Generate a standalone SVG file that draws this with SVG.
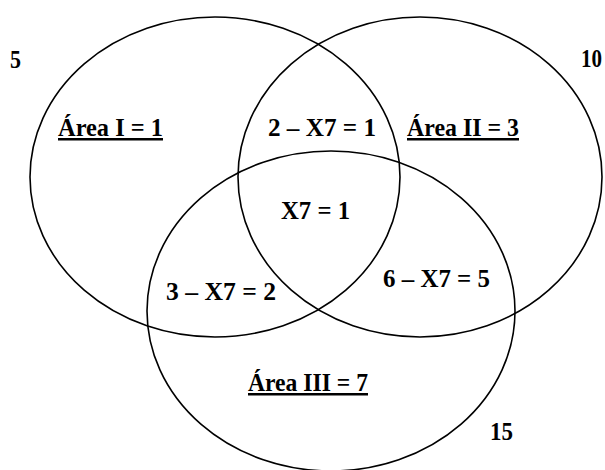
<svg xmlns="http://www.w3.org/2000/svg" width="605" height="470" viewBox="0 0 605 470">
<style>
.set{fill:none;stroke:#000;stroke-width:1.6}
text{font-family:"Liberation Serif","Times New Roman",serif;font-weight:bold;font-size:25px;fill:#000}
.u{text-decoration:underline}
</style>
<rect width="605" height="470" fill="#fff"/>
<g id="set-I">
<ellipse class="set" cx="215" cy="177" rx="185" ry="160"/>
</g>
<g id="set-II">
<ellipse class="set" cx="420" cy="177" rx="182" ry="160"/>
</g>
<g id="set-III">
<ellipse class="set" cx="331" cy="311" rx="184" ry="160"/>
</g>
<g id="labels">
<text x="10" y="68" textLength="11" lengthAdjust="spacingAndGlyphs">5</text>
<text x="581" y="67" textLength="21" lengthAdjust="spacingAndGlyphs">10</text>
<text x="490" y="440" textLength="23" lengthAdjust="spacingAndGlyphs">15</text>
<text class="u" x="58" y="136" textLength="105" lengthAdjust="spacingAndGlyphs">Área I = 1</text>
<text x="268" y="136" textLength="108" lengthAdjust="spacingAndGlyphs">2 – X7 = 1</text>
<text class="u" x="407" y="136" textLength="112" lengthAdjust="spacingAndGlyphs">Área II = 3</text>
<text x="281" y="219" textLength="69" lengthAdjust="spacingAndGlyphs">X7 = 1</text>
<text x="166" y="300" textLength="110" lengthAdjust="spacingAndGlyphs">3 – X7 = 2</text>
<text x="383" y="287" textLength="107" lengthAdjust="spacingAndGlyphs">6 – X7 = 5</text>
<text class="u" x="248" y="391" textLength="120" lengthAdjust="spacingAndGlyphs">Área III = 7</text>
</g>
</svg>
